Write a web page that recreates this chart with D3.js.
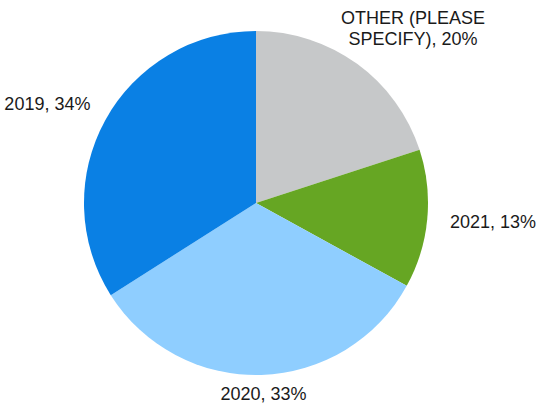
<!DOCTYPE html>
<html>
<head>
<meta charset="utf-8">
<script src="https://cdn.jsdelivr.net/npm/d3@7"></script>
<style>
  html, body { margin: 0; padding: 0; background: #fff; }
  svg { display: block; }
</style>
</head>
<body>
<svg id="chart" width="549" height="406"></svg>
<script>
const categories = ["OTHER (PLEASE SPECIFY)", "2021", "2020", "2019"];
const values = [20, 13, 33, 34];
const labelLines = [["OTHER (PLEASE", "SPECIFY), 20%"], ["2021, 13%"], ["2020, 33%"], ["2019, 34%"]];
const colors = ["#C6C8C9", "#66A623", "#8FCEFF", "#0A80E4"];

const W = 549, H = 406;
const cx = 256, cy = 203, r = 172;
const svg = d3.select("#chart");
const g = svg.append("g").attr("transform", `translate(${cx},${cy})`);

const data = categories.map((c, i) => ({ cat: c, value: values[i], lines: labelLines[i], color: colors[i] }));
const pie = d3.pie().value(d => d.value).sort(null);
const arcs = pie(data);
const arc = d3.arc().innerRadius(0).outerRadius(r);

g.selectAll("path.slice").data(arcs).join("path")
  .attr("class", "slice")
  .attr("d", arc)
  .attr("fill", d => d.data.color);

const R = 195, lineH = 21, fs = 18, pad = 2;
arcs.forEach(a => {
  const mid = (a.startAngle + a.endAngle) / 2;
  const sx = Math.sin(mid), cyy = -Math.cos(mid);
  const t = g.append("text")
    .attr("font-family", "Liberation Sans, Arial, sans-serif")
    .attr("font-size", fs)
    .attr("fill", "#1a1a1a")
    .attr("text-anchor", "middle");
  a.data.lines.forEach((ln, i) => {
    t.append("tspan").attr("x", 0).attr("dy", i === 0 ? 0 : lineH).text(ln);
  });
  const bb = t.node().getBBox();
  const w = bb.width, h = bb.height;
  const px = R * sx, py = R * cyy;
  let bx = px + sx * w / 2;
  let by = py + cyy * h / 2;
  // keep label box within the drawing area
  const minX = -cx + pad + w / 2, maxX = W - cx - pad - w / 2;
  const minY = -cy + pad + h / 2, maxY = H - cy - pad - h / 2;
  bx = Math.max(minX, Math.min(maxX, bx));
  by = Math.max(minY, Math.min(maxY, by));
  const offY = by - (bb.y + bb.height / 2);
  t.attr("transform", `translate(${bx},${offY})`);
});
</script>
</body>
</html>
